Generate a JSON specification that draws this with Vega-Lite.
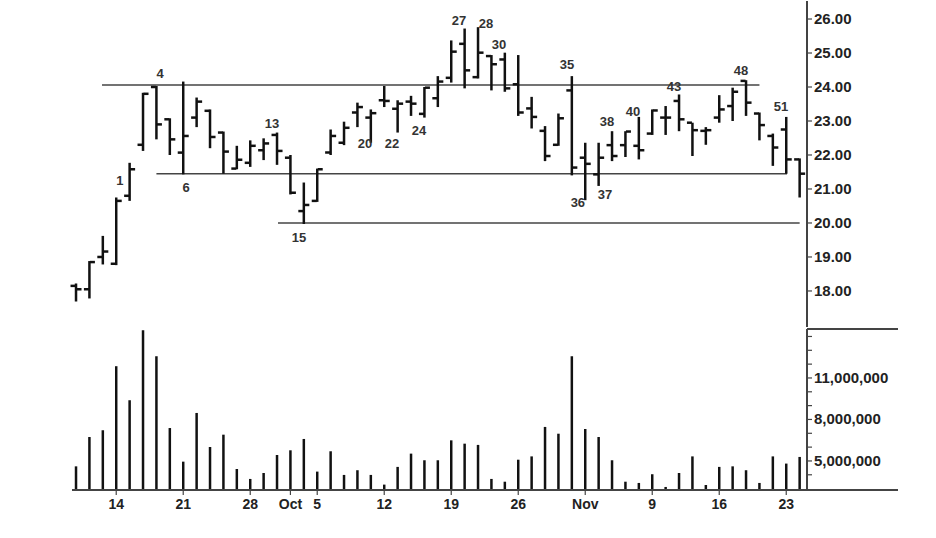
{
  "$schema": "https://vega.github.io/schema/vega-lite/v6.json",
  "description": "Daily price bars with numbered swing points, support/resistance lines and volume",
  "padding": {"left": 70, "top": 0, "right": 0, "bottom": 0},
  "background": "white",
  "spacing": 0,
  "config": {"view": {"stroke": null}},
  "datasets": {
    "bars": [
      {"i": 0, "d": "Sep 9", "o": 18.15, "h": 18.22, "l": 17.69, "c": 18.05, "v": 4610000},
      {"i": 1, "d": "Sep 10", "o": 18.05, "h": 18.88, "l": 17.78, "c": 18.85, "v": 6730000},
      {"i": 2, "d": "Sep 11", "o": 19.0, "h": 19.62, "l": 18.78, "c": 19.16, "v": 7220000},
      {"i": 3, "d": "Sep 14", "o": 18.8, "h": 20.75, "l": 18.76, "c": 20.65, "v": 11850000},
      {"i": 4, "d": "Sep 15", "o": 20.8, "h": 21.77, "l": 20.65, "c": 21.58, "v": 9390000},
      {"i": 5, "d": "Sep 16", "o": 22.3, "h": 23.83, "l": 22.12, "c": 23.8, "v": 14450000},
      {"i": 6, "d": "Sep 17", "o": 24.0, "h": 24.03, "l": 22.46, "c": 22.9, "v": 12570000},
      {"i": 7, "d": "Sep 18", "o": 23.05, "h": 23.08, "l": 22.0, "c": 22.46, "v": 7380000},
      {"i": 8, "d": "Sep 21", "o": 22.07, "h": 24.16, "l": 21.43, "c": 22.56, "v": 4950000},
      {"i": 9, "d": "Sep 22", "o": 23.1, "h": 23.69, "l": 22.82, "c": 23.57, "v": 8470000},
      {"i": 10, "d": "Sep 23", "o": 23.3, "h": 23.34, "l": 22.2, "c": 22.53, "v": 6010000},
      {"i": 11, "d": "Sep 24", "o": 22.66, "h": 22.69, "l": 21.45, "c": 22.1, "v": 6900000},
      {"i": 12, "d": "Sep 25", "o": 21.6, "h": 22.27, "l": 21.58, "c": 21.86, "v": 4420000},
      {"i": 13, "d": "Sep 28", "o": 21.77, "h": 22.43, "l": 21.65, "c": 22.27, "v": 3700000},
      {"i": 14, "d": "Sep 29", "o": 22.14, "h": 22.49, "l": 21.85, "c": 22.34, "v": 4130000},
      {"i": 15, "d": "Sep 30", "o": 22.59, "h": 22.66, "l": 21.71, "c": 22.12, "v": 5430000},
      {"i": 16, "d": "Oct 1", "o": 21.92, "h": 22.0, "l": 20.84, "c": 20.89, "v": 5770000},
      {"i": 17, "d": "Oct 2", "o": 20.35, "h": 21.19, "l": 19.97, "c": 20.53, "v": 6590000},
      {"i": 18, "d": "Oct 5", "o": 20.65, "h": 21.6, "l": 20.62, "c": 21.58, "v": 4230000},
      {"i": 19, "d": "Oct 6", "o": 22.07, "h": 22.75, "l": 22.0, "c": 22.56, "v": 5700000},
      {"i": 20, "d": "Oct 7", "o": 22.36, "h": 22.98, "l": 22.29, "c": 22.8, "v": 3990000},
      {"i": 21, "d": "Oct 8", "o": 23.25, "h": 23.54, "l": 22.82, "c": 23.41, "v": 4330000},
      {"i": 22, "d": "Oct 9", "o": 23.1, "h": 23.34, "l": 22.36, "c": 23.23, "v": 3990000},
      {"i": 23, "d": "Oct 12", "o": 23.61, "h": 24.03, "l": 23.41, "c": 23.59, "v": 3290000},
      {"i": 24, "d": "Oct 13", "o": 23.36, "h": 23.61, "l": 22.66, "c": 23.51, "v": 4570000},
      {"i": 25, "d": "Oct 14", "o": 23.57, "h": 23.74, "l": 23.15, "c": 23.51, "v": 5530000},
      {"i": 26, "d": "Oct 15", "o": 23.21, "h": 24.0, "l": 23.1, "c": 23.98, "v": 5050000},
      {"i": 27, "d": "Oct 16", "o": 23.67, "h": 24.32, "l": 23.41, "c": 24.16, "v": 5050000},
      {"i": 28, "d": "Oct 19", "o": 24.27, "h": 25.37, "l": 24.13, "c": 25.04, "v": 6490000},
      {"i": 29, "d": "Oct 20", "o": 25.27, "h": 25.72, "l": 23.96, "c": 24.49, "v": 6250000},
      {"i": 30, "d": "Oct 21", "o": 24.29, "h": 25.76, "l": 24.25, "c": 25.01, "v": 6160000},
      {"i": 31, "d": "Oct 22", "o": 24.91, "h": 24.94, "l": 23.9, "c": 24.67, "v": 3700000},
      {"i": 32, "d": "Oct 23", "o": 24.81, "h": 25.01, "l": 23.86, "c": 23.96, "v": 3500000},
      {"i": 33, "d": "Oct 26", "o": 24.08, "h": 24.94, "l": 23.15, "c": 23.25, "v": 5090000},
      {"i": 34, "d": "Oct 27", "o": 23.37, "h": 23.71, "l": 22.78, "c": 23.12, "v": 5330000},
      {"i": 35, "d": "Oct 28", "o": 22.71, "h": 22.85, "l": 21.82, "c": 21.97, "v": 7460000},
      {"i": 36, "d": "Oct 29", "o": 22.3, "h": 23.22, "l": 22.27, "c": 23.08, "v": 6970000},
      {"i": 37, "d": "Oct 30", "o": 23.9, "h": 24.32, "l": 21.4, "c": 21.63, "v": 12570000},
      {"i": 38, "d": "Nov 2", "o": 21.92, "h": 22.36, "l": 20.67, "c": 21.74, "v": 7310000},
      {"i": 39, "d": "Nov 3", "o": 21.43, "h": 22.36, "l": 21.09, "c": 21.92, "v": 6730000},
      {"i": 40, "d": "Nov 4", "o": 22.29, "h": 22.7, "l": 21.82, "c": 21.97, "v": 5050000},
      {"i": 41, "d": "Nov 5", "o": 22.29, "h": 22.7, "l": 21.94, "c": 22.69, "v": 3500000},
      {"i": 42, "d": "Nov 6", "o": 22.27, "h": 23.12, "l": 21.87, "c": 22.14, "v": 3410000},
      {"i": 43, "d": "Nov 9", "o": 22.63, "h": 23.34, "l": 22.59, "c": 23.31, "v": 4040000},
      {"i": 44, "d": "Nov 10", "o": 23.1, "h": 23.44, "l": 22.59, "c": 23.1, "v": 3120000},
      {"i": 45, "d": "Nov 11", "o": 23.59, "h": 23.78, "l": 22.7, "c": 23.05, "v": 4130000},
      {"i": 46, "d": "Nov 12", "o": 22.95, "h": 22.95, "l": 21.97, "c": 22.73, "v": 5330000},
      {"i": 47, "d": "Nov 13", "o": 22.71, "h": 22.82, "l": 22.3, "c": 22.73, "v": 3260000},
      {"i": 48, "d": "Nov 16", "o": 23.1, "h": 23.76, "l": 22.95, "c": 23.34, "v": 4570000},
      {"i": 49, "d": "Nov 17", "o": 23.44, "h": 23.98, "l": 23.0, "c": 23.86, "v": 4610000},
      {"i": 50, "d": "Nov 18", "o": 24.18, "h": 24.2, "l": 23.15, "c": 23.54, "v": 4330000},
      {"i": 51, "d": "Nov 19", "o": 23.22, "h": 23.25, "l": 22.43, "c": 22.88, "v": 3410000},
      {"i": 52, "d": "Nov 20", "o": 22.56, "h": 22.63, "l": 21.68, "c": 22.22, "v": 5330000},
      {"i": 53, "d": "Nov 23", "o": 22.75, "h": 23.12, "l": 21.45, "c": 21.87, "v": 4810000},
      {"i": 54, "d": "Nov 24", "o": 21.87, "h": 21.9, "l": 20.75, "c": 21.45, "v": 5290000}
    ],
    "lines": [
      {"p": 24.06, "a": 1.94, "b": 51.0},
      {"p": 21.45, "a": 6.0, "b": 53.06},
      {"p": 20.0, "a": 15.07, "b": 54.0}
    ],
    "labels": [
      {"n": "1", "x": 3.28, "p": 21.24},
      {"n": "4", "x": 6.27, "p": 24.39},
      {"n": "6", "x": 8.21, "p": 21.03},
      {"n": "13", "x": 14.63, "p": 22.91},
      {"n": "15", "x": 16.64, "p": 19.56},
      {"n": "20", "x": 21.57, "p": 22.32},
      {"n": "22", "x": 23.58, "p": 22.32},
      {"n": "24", "x": 25.6, "p": 22.7},
      {"n": "27", "x": 28.58, "p": 25.93},
      {"n": "28", "x": 30.6, "p": 25.86},
      {"n": "30", "x": 31.57, "p": 25.25},
      {"n": "35", "x": 36.64, "p": 24.64},
      {"n": "36", "x": 37.45, "p": 20.6},
      {"n": "37", "x": 39.48, "p": 20.82},
      {"n": "38", "x": 39.63, "p": 22.97},
      {"n": "40", "x": 41.57, "p": 23.27},
      {"n": "43", "x": 44.63, "p": 24.0},
      {"n": "48", "x": 49.63, "p": 24.48},
      {"n": "51", "x": 52.61, "p": 23.4}
    ],
    "priceTicks": [
      {"p": 18}, {"p": 19}, {"p": 20}, {"p": 21}, {"p": 22}, {"p": 23}, {"p": 24}, {"p": 25}, {"p": 26}
    ],
    "volTicks": [
      {"v": 4000000, "t": ""}, {"v": 5000000, "t": "5,000,000"}, {"v": 6000000, "t": ""},
      {"v": 7000000, "t": ""}, {"v": 8000000, "t": "8,000,000"}, {"v": 9000000, "t": ""},
      {"v": 10000000, "t": ""}, {"v": 11000000, "t": "11,000,000"}, {"v": 12000000, "t": ""},
      {"v": 13000000, "t": ""}, {"v": 14000000, "t": ""}
    ],
    "dateTicks": [
      {"i": 3, "t": "14"}, {"i": 8, "t": "21"}, {"i": 13, "t": "28"}, {"i": 16, "t": "Oct"},
      {"i": 18, "t": "5"}, {"i": 23, "t": "12"}, {"i": 28, "t": "19"}, {"i": 33, "t": "26"},
      {"i": 38, "t": "Nov"}, {"i": 43, "t": "9"}, {"i": 48, "t": "16"}, {"i": 53, "t": "23"}
    ]
  },
  "vconcat": [
    {
      "width": 826,
      "height": 326,
      "data": {"name": "bars"},
      "layer": [
        {
          "data": {"name": "lines"},
          "mark": {"type": "rule", "color": "#444", "strokeWidth": 1.5},
          "encoding": {
            "x": {"field": "a", "type": "quantitative", "scale": {"domain": [-0.3, 61.34], "nice": false, "zero": false}, "axis": null},
            "x2": {"field": "b"},
            "y": {"field": "p", "type": "quantitative", "scale": {"domain": [16.94, 26.53], "nice": false, "zero": false}, "axis": null}
          }
        },
        {
          "mark": {"type": "rule", "color": "#111", "strokeWidth": 2.5},
          "encoding": {
            "x": {"field": "i", "type": "quantitative", "axis": null},
            "y": {"field": "l", "type": "quantitative", "axis": null},
            "y2": {"field": "h"}
          }
        },
        {
          "mark": {"type": "tick", "orient": "horizontal", "size": 5, "thickness": 2.5, "xOffset": -3, "color": "#111", "opacity": 1},
          "encoding": {
            "x": {"field": "i", "type": "quantitative", "axis": null},
            "y": {"field": "o", "type": "quantitative", "axis": null}
          }
        },
        {
          "mark": {"type": "tick", "orient": "horizontal", "size": 5, "thickness": 2.5, "xOffset": 3, "color": "#111", "opacity": 1},
          "encoding": {
            "x": {"field": "i", "type": "quantitative", "axis": null},
            "y": {"field": "c", "type": "quantitative", "axis": null}
          }
        },
        {
          "data": {"name": "labels"},
          "mark": {"type": "text", "font": "Liberation Sans", "fontWeight": "bold", "fontSize": 13, "color": "#333"},
          "encoding": {
            "x": {"field": "x", "type": "quantitative", "axis": null},
            "y": {"field": "p", "type": "quantitative", "axis": null},
            "text": {"field": "n"}
          }
        },
        {
          "data": {"name": "priceTicks"},
          "mark": {"type": "rule", "color": "#444", "strokeWidth": 1.5},
          "encoding": {
            "x": {"datum": 54.55, "type": "quantitative", "axis": null},
            "y": {"datum": 16.94, "type": "quantitative", "axis": null},
            "y2": {"datum": 26.53}
          }
        },
        {
          "data": {"name": "priceTicks"},
          "mark": {"type": "tick", "orient": "horizontal", "size": 5, "thickness": 1.2, "xOffset": 2.5, "color": "#444", "opacity": 1},
          "encoding": {
            "x": {"datum": 54.55, "type": "quantitative", "axis": null},
            "y": {"field": "p", "type": "quantitative", "axis": null}
          }
        },
        {
          "data": {"name": "priceTicks"},
          "mark": {"type": "text", "align": "left", "baseline": "middle", "dx": 7, "font": "Liberation Sans", "fontWeight": "bold", "fontSize": 15, "color": "#222"},
          "encoding": {
            "x": {"datum": 54.55, "type": "quantitative", "axis": null},
            "y": {"field": "p", "type": "quantitative", "axis": null},
            "text": {"field": "p", "format": ".2f"}
          }
        }
      ]
    },
    {
      "width": 826,
      "height": 161,
      "data": {"name": "bars"},
      "layer": [
        {
          "mark": {"type": "rule", "color": "#111", "strokeWidth": 2.5},
          "encoding": {
            "x": {"field": "i", "type": "quantitative", "scale": {"domain": [-0.3, 61.34], "nice": false, "zero": false}, "axis": null},
            "y": {"field": "v", "type": "quantitative", "scale": {"domain": [2900000, 14540000], "nice": false, "zero": false}, "axis": null},
            "y2": {"datum": 2900000}
          }
        },
        {
          "data": {"name": "volTicks"},
          "mark": {"type": "rule", "color": "#444", "strokeWidth": 1.5},
          "encoding": {
            "x": {"datum": -0.3, "type": "quantitative", "axis": null},
            "x2": {"datum": 61.34},
            "y": {"datum": 2900000, "type": "quantitative", "axis": null}
          }
        },
        {
          "data": {"name": "volTicks"},
          "mark": {"type": "rule", "color": "#444", "strokeWidth": 1.5},
          "encoding": {
            "x": {"datum": 54.55, "type": "quantitative", "axis": null},
            "x2": {"datum": 61.34},
            "y": {"datum": 14540000, "type": "quantitative", "axis": null}
          }
        },
        {
          "data": {"name": "volTicks"},
          "mark": {"type": "rule", "color": "#444", "strokeWidth": 1.5},
          "encoding": {
            "x": {"datum": 54.55, "type": "quantitative", "axis": null},
            "y": {"datum": 2900000, "type": "quantitative", "axis": null},
            "y2": {"datum": 14540000}
          }
        },
        {
          "data": {"name": "volTicks"},
          "mark": {"type": "tick", "orient": "horizontal", "size": 5, "thickness": 1.2, "xOffset": 2.5, "color": "#444", "opacity": 1},
          "encoding": {
            "x": {"datum": 54.55, "type": "quantitative", "axis": null},
            "y": {"field": "v", "type": "quantitative", "axis": null}
          }
        },
        {
          "data": {"name": "volTicks"},
          "mark": {"type": "text", "align": "left", "baseline": "middle", "dx": 7, "font": "Liberation Sans", "fontWeight": "bold", "fontSize": 15, "color": "#222"},
          "encoding": {
            "x": {"datum": 54.55, "type": "quantitative", "axis": null},
            "y": {"field": "v", "type": "quantitative", "axis": null},
            "text": {"field": "t"}
          }
        },
        {
          "data": {"name": "dateTicks"},
          "mark": {"type": "tick", "orient": "vertical", "size": 5, "thickness": 1.2, "yOffset": 2.5, "color": "#444", "opacity": 1},
          "encoding": {
            "x": {"field": "i", "type": "quantitative", "axis": null},
            "y": {"datum": 2900000, "type": "quantitative", "axis": null}
          }
        },
        {
          "data": {"name": "dateTicks"},
          "mark": {"type": "text", "align": "center", "baseline": "top", "dy": 8, "font": "Liberation Sans", "fontWeight": "bold", "fontSize": 14, "color": "#222"},
          "encoding": {
            "x": {"field": "i", "type": "quantitative", "axis": null},
            "y": {"datum": 2900000, "type": "quantitative", "axis": null},
            "text": {"field": "t"}
          }
        }
      ]
    }
  ]
}
